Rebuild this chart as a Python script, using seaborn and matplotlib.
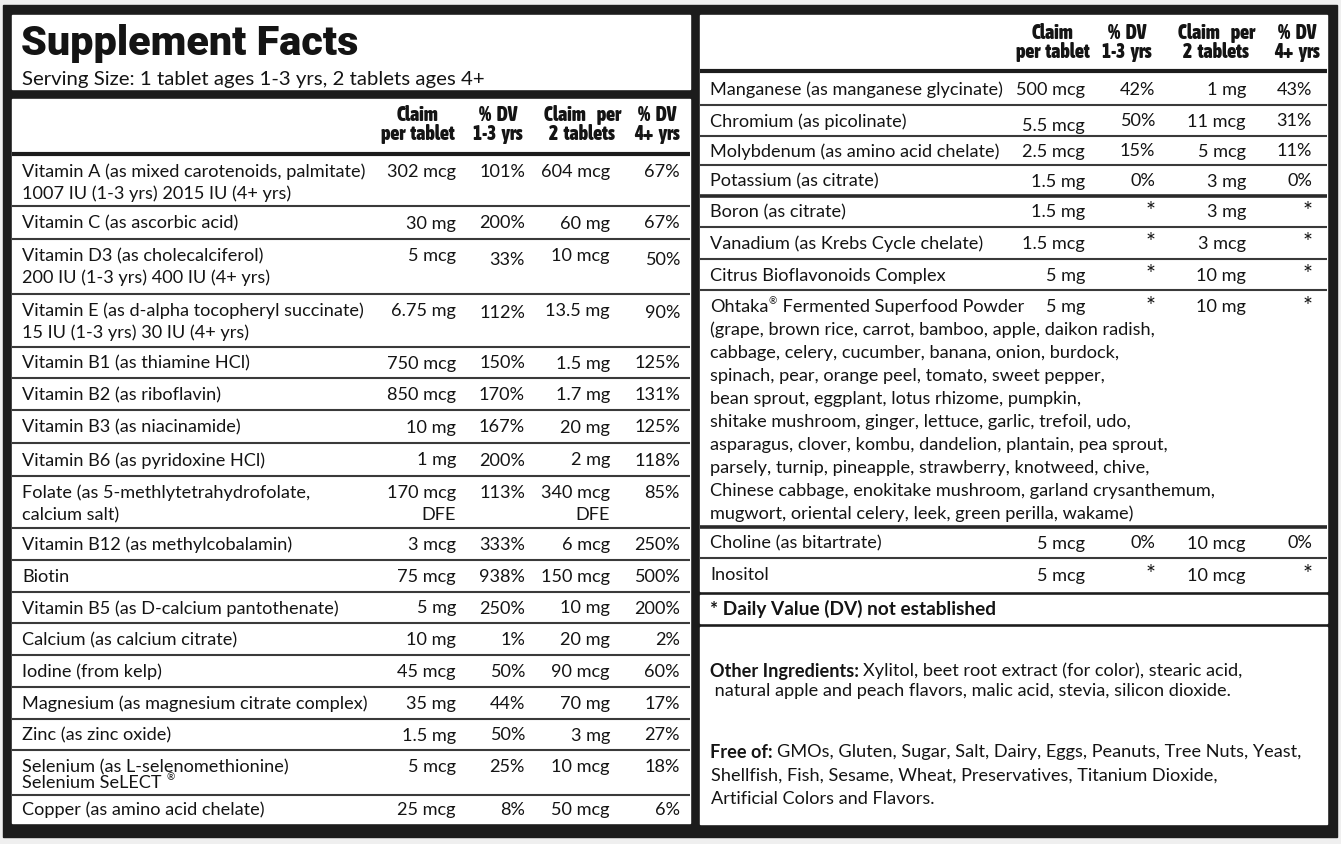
import matplotlib
matplotlib.use("Agg")
import matplotlib.pyplot as plt
from matplotlib import font_manager
from matplotlib.font_manager import FontProperties
from matplotlib.patches import Rectangle
import seaborn as sns

sns.set_theme(style="white")

installed = {f.name for f in font_manager.fontManager.ttflist}


def pick(*names):
    for n in names:
        if n in installed:
            return n
    return "DejaVu Sans"


def weight_num(w):
    table = {"normal": 400, "regular": 400, "book": 400, "medium": 500, "semibold": 600,
             "demibold": 600, "bold": 700, "heavy": 800, "extra bold": 800, "black": 900}
    try:
        return int(w)
    except (TypeError, ValueError):
        return table.get(str(w).lower(), 400)


STRETCH_RANK = {"semi-condensed": 0, "condensed": 1, "extra-condensed": 2,
                "ultra-condensed": 3}


def condensed_bold():
    found = []
    for f in font_manager.fontManager.ttflist:
        rank = STRETCH_RANK.get(f.stretch)
        if rank is None and ("Narrow" in f.name or "Condensed" in f.name):
            rank = 1
        if rank is not None and weight_num(f.weight) >= 700 and f.style == "normal":
            found.append((rank, -weight_num(f.weight), f.fname))
    if found:
        found.sort()
        return FontProperties(fname=found[0][2])
    return FontProperties(family=pick("Roboto", "Liberation Sans"), weight=900)


BODY = pick("Lato", "Open Sans", "Noto Sans")
plt.rcParams["font.family"] = [BODY, "DejaVu Sans"]
HEAD_FP = condensed_bold()
TITLE_FP = FontProperties(family=pick("Roboto", "Liberation Sans"), weight=900)

# ---- data ----
left_names = [
    "Vitamin A (as mixed carotenoids, palmitate)\n1007 IU (1-3 yrs) 2015 IU (4+ yrs)",
    "Vitamin C (as ascorbic acid)",
    "Vitamin D3 (as cholecalciferol)\n200 IU (1-3 yrs) 400 IU (4+ yrs)",
    "Vitamin E (as d-alpha tocopheryl succinate)\n15 IU (1-3 yrs) 30 IU (4+ yrs)",
    "Vitamin B1 (as thiamine HCl)",
    "Vitamin B2 (as riboflavin)",
    "Vitamin B3 (as niacinamide)",
    "Vitamin B6 (as pyridoxine HCl)",
    "Folate (as 5-methlytetrahydrofolate,\ncalcium salt)",
    "Vitamin B12 (as methylcobalamin)",
    "Biotin",
    "Vitamin B5 (as D-calcium pantothenate)",
    "Calcium (as calcium citrate)",
    "Iodine (from kelp)",
    "Magnesium (as magnesium citrate complex)",
    "Zinc (as zinc oxide)",
    "Selenium (as L-selenomethionine)\nSelenium SeLECT \u00ae",
    "Copper (as amino acid chelate)",
]
left_claim1 = ["302 mcg", "30 mg", "5 mcg", "6.75 mg", "750 mcg", "850 mcg", "10 mg", "1 mg",
               "170 mcg\nDFE", "3 mcg", "75 mcg", "5 mg", "10 mg", "45 mcg", "35 mg", "1.5 mg",
               "5 mcg", "25 mcg"]
left_dv1 = ["101%", "200%", "33%", "112%", "150%", "170%", "167%", "200%", "113%", "333%",
            "938%", "250%", "1%", "50%", "44%", "50%", "25%", "8%"]
left_claim2 = ["604 mcg", "60 mg", "10 mcg", "13.5 mg", "1.5 mg", "1.7 mg", "20 mg", "2 mg",
               "340 mcg\nDFE", "6 mcg", "150 mcg", "10 mg", "20 mg", "90 mcg", "70 mg", "3 mg",
               "10 mcg", "50 mcg"]
left_dv2 = ["67%", "67%", "50%", "90%", "125%", "131%", "125%", "118%", "85%", "250%",
            "500%", "200%", "2%", "60%", "17%", "27%", "18%", "6%"]

right_names = [
    "Manganese (as manganese glycinate)",
    "Chromium (as picolinate)",
    "Molybdenum (as amino acid chelate)",
    "Potassium (as citrate)",
    "Boron (as citrate)",
    "Vanadium (as Krebs Cycle chelate)",
    "Citrus Bioflavonoids Complex",
    "Ohtaka\u00ae Fermented Superfood Powder\n"
    "(grape, brown rice, carrot, bamboo, apple, daikon radish,\n"
    "cabbage, celery, cucumber, banana, onion, burdock,\n"
    "spinach, pear, orange peel, tomato, sweet pepper,\n"
    "bean sprout, eggplant, lotus rhizome, pumpkin,\n"
    "shitake mushroom, ginger, lettuce, garlic, trefoil, udo,\n"
    "asparagus, clover, kombu, dandelion, plantain, pea sprout,\n"
    "parsely, turnip, pineapple, strawberry, knotweed, chive,\n"
    "Chinese cabbage, enokitake mushroom, garland crysanthemum,\n"
    "mugwort, oriental celery, leek, green perilla, wakame)",
    "Choline (as bitartrate)",
    "Inositol",
]
right_claim1 = ["500 mcg", "5.5 mcg", "2.5 mcg", "1.5 mg", "1.5 mg", "1.5 mcg", "5 mg", "5 mg",
                "5 mcg", "5 mcg"]
right_dv1 = ["42%", "50%", "15%", "0%", "*", "*", "*", "*", "0%", "*"]
right_claim2 = ["1 mg", "11 mcg", "5 mcg", "3 mg", "3 mg", "3 mcg", "10 mg", "10 mg",
                "10 mcg", "10 mcg"]
right_dv2 = ["43%", "31%", "11%", "0%", "*", "*", "*", "*", "0%", "*"]

header_labels = ["Claim\nper tablet", "% DV\n1-3 yrs", "Claim  per\n2 tablets", "% DV\n4+ yrs"]

title = "Supplement Facts"
serving = "Serving Size: 1 tablet ages 1-3 yrs, 2 tablets ages 4+"
footnote = "* Daily Value (DV) not established"
other_label = "Other Ingredients:"
other_lines = ["Xylitol, beet root extract (for color), stearic acid,",
               " natural apple and peach flavors, malic acid, stevia, silicon dioxide."]
free_label = "Free of:"
free_lines = ["GMOs, Gluten, Sugar, Salt, Dairy, Eggs, Peanuts, Tree Nuts, Yeast,",
              "Shellfish, Fish, Sesame, Wheat, Preservatives, Titanium Dioxide,",
              "Artificial Colors and Flavors."]

# ---- layout (pixels) ----
W, H = 1341, 844
left_edges = [155, 206, 239, 294, 347, 378, 410, 443, 476, 528, 560, 592, 623, 655, 687,
              719, 750, 795, 823]
right_edges = [73, 105, 136, 165, 196, 227, 259, 290, 527, 558, 591]
left_cols = [456, 525, 610, 680]
right_cols = [1085, 1155, 1246, 1312]
left_head_x = [418, 498, 582, 657]
right_head_x = [1053, 1127, 1216, 1297]
# small vertical offsets seen on a few printed values: (row, column) -> px
left_nudge = {(2, 1): 4, (2, 3): 4, (3, 1): 2, (3, 3): 2}
right_nudge = {(1, 0): 4}
INK = "#141414"
FRAME = "#1c1c1c"

fig = plt.figure(figsize=(W / 100, H / 100), dpi=100, facecolor="#efefef")
ax = fig.add_axes([0, 0, 1, 1])
ax.set_xlim(0, W)
ax.set_ylim(H, 0)
ax.axis("off")
renderer = fig.canvas.get_renderer()


def text_width(s, **kw):
    t = ax.text(0, 0, s, **kw)
    w = t.get_window_extent(renderer).width
    t.remove()
    return w


def fit_size(s, target, **kw):
    return 20 * target / text_width(s, fontsize=20, **kw)


def sized(fp, size):
    fp = fp.copy()
    fp.set_size(size)
    return fp


body_fs = fit_size(left_names[0].split("\n")[0], 345)
bold_fs = fit_size(footnote, 285, fontweight="bold")
serv_fs = fit_size(serving, 464)
head_fs = 20 * 73 / text_width("per  tablet", fontproperties=sized(HEAD_FP, 20))
title_fs = 20 * 337 / text_width(title, fontproperties=sized(TITLE_FP, 20))


def body_line(x, y, s, size=None):
    # draws a line of body text, setting any (R) sign small and raised
    size = size or body_fs
    parts = s.split("\u00ae")
    if len(parts) == 1:
        ax.text(x, y, s, fontsize=size, color=INK, ha="left", va="center", zorder=3)
        return
    for i, p in enumerate(parts):
        if p:
            ax.text(x, y, p, fontsize=size, color=INK, ha="left", va="center", zorder=3)
            x += text_width(p, fontsize=size)
        if i < len(parts) - 1:
            ax.text(x + 0.5, y - 5, "\u00ae", fontsize=size * 0.55, color=INK,
                    ha="left", va="center", zorder=3)
            x += text_width("\u00ae", fontsize=size * 0.55) + 1


# frame and white panels
ax.add_patch(Rectangle((3, 5), 1334, 832, color=FRAME, zorder=0))
for x0, y0, x1, y1 in [(12, 15, 690, 89), (12, 99, 690, 823), (700, 15, 1327, 591),
                       (700, 595, 1327, 623), (700, 627, 1327, 824)]:
    ax.add_patch(Rectangle((x0, y0), x1 - x0, y1 - y0, color="white", zorder=1))

# separators
ax.hlines(153.5, 12, 690, color=FRAME, lw=3.0, zorder=2)
ax.hlines(71, 700, 1327, color=FRAME, lw=3.0, zorder=2)
for y in left_edges[1:-1]:
    ax.hlines(y, 12, 690, color="#3a3a3a", lw=1.5, zorder=2)
for y in right_edges[1:-1]:
    thick = y in (196, 527)
    ax.hlines(y, 700, 1327, color="#2a2a2a" if thick else "#3a3a3a",
              lw=2.6 if thick else 1.5, zorder=2)

# title box
ax.text(21, 55, title, color=INK, va="baseline", ha="left", zorder=3,
        fontproperties=sized(TITLE_FP, title_fs))
ax.text(22, 80, serving, fontsize=serv_fs, color=INK, va="center", ha="left", zorder=3)

# column headers (words spaced a little wider, as on the label)
for labels_x, y0 in [(left_head_x, 115), (right_head_x, 33)]:
    for cx, lab in zip(labels_x, header_labels):
        for i, line in enumerate(lab.split("\n")):
            ax.text(cx, y0 + i * 19.5, line.replace(" ", "  "), color=INK, ha="center",
                    va="center", zorder=3, fontproperties=sized(HEAD_FP, head_fs))


def draw_rows(edges, names, cols, values, x_text, gap, nudge):
    for k, name in enumerate(names):
        top, bot = edges[k], edges[k + 1]
        lines = name.split("\n")
        if len(lines) == 1:
            y0 = (top + bot) / 2 + 1
        else:
            y0 = top + 17
        g = 16 if "SeLECT" in name else gap
        for i, line in enumerate(lines):
            body_line(x_text, y0 + i * g, line)
        for j, (cx, vals) in enumerate(zip(cols, values)):
            dy = nudge.get((k, j), 0)
            for i, line in enumerate(vals[k].split("\n")):
                if line == "*":
                    ax.text(cx + 1, y0 - 1, line, fontsize=body_fs * 1.3, color=INK,
                            ha="right", va="center", zorder=3)
                else:
                    ax.text(cx, y0 + dy + i * 22, line, fontsize=body_fs, color=INK,
                            ha="right", va="center", zorder=3)


draw_rows(left_edges, left_names, left_cols,
          [left_claim1, left_dv1, left_claim2, left_dv2], 22, 22, left_nudge)
draw_rows(right_edges, right_names, right_cols,
          [right_claim1, right_dv1, right_claim2, right_dv2], 710, 23, right_nudge)

# footnote
ax.text(710, 609, footnote, fontsize=bold_fs, fontweight="bold", color=INK,
        ha="left", va="center", zorder=3)


def rich(x, y, label, lines, gap, indent=0):
    ax.text(x, y, label, fontsize=body_fs, fontweight="bold", color=INK,
            ha="left", va="center", zorder=3)
    w = text_width(label + " ", fontsize=body_fs, fontweight="bold")
    ax.text(x + w, y, lines[0], fontsize=body_fs, color=INK, ha="left", va="center", zorder=3)
    for i, line in enumerate(lines[1:], start=1):
        ax.text(x + indent, y + i * gap, line, fontsize=body_fs, color=INK,
                ha="left", va="center", zorder=3)


rich(710, 671, other_label, other_lines, 20)
rich(710, 752, free_label, free_lines, 23.5, indent=1)

fig.savefig("out.png", dpi=100, facecolor=fig.get_facecolor())
